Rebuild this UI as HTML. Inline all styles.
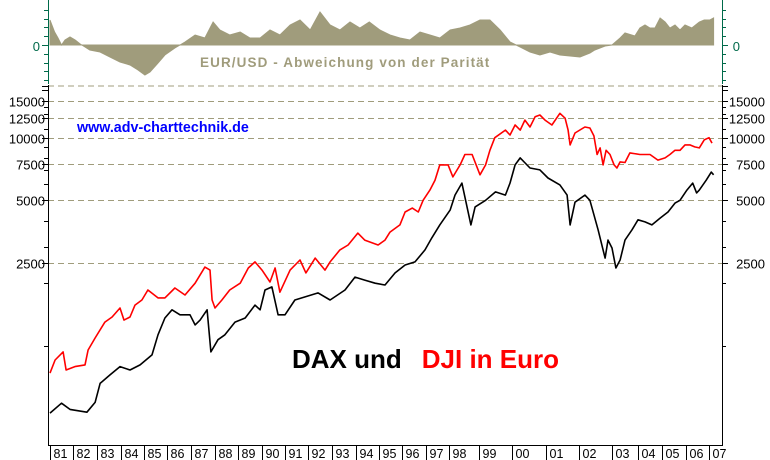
<!DOCTYPE html>
<html><head><meta charset="utf-8">
<style>
html,body{margin:0;padding:0;background:#fff;}
svg{display:block;font-family:"Liberation Sans",Arial,sans-serif;}
</style></head>
<body>
<svg id="chart" width="770" height="460" viewBox="0 0 770 460">
  <g id="grid"></g>
  <g id="dev"></g>
  <g id="axes"></g>
  <g id="series"></g>
  <text x="200" y="67" fill="#a09c7c" font-size="13.5" font-weight="bold" letter-spacing="1.1">EUR/USD - Abweichung von der Parität</text>
  <text x="77" y="132" fill="#0000ff" font-size="14.3" font-weight="bold">www.adv-charttechnik.de</text>
  <text x="292" y="368" font-size="26" font-weight="bold"><tspan fill="#000">DAX und</tspan><tspan fill="#ff0000" dx="20">DJI in Euro</tspan></text>
</svg>
<script>
// ---- data ----
const yearLabels = ["81","82","83","84","85","86","87","88","89","90","91","92","93","94","95","96","97","98","99","00","01","02","03","04","05","06","07"];
const priceTicks = [15000,12500,10000,7500,5000,2500];
const minorTicks = [14000,13000,11000,9000,8000,7000,6000,4000,3000,2000,1000];
const daxDates = [1981.0,1981.5,1981.87,1982.58,1982.92,1983.13,1983.54,1983.96,1984.39,1984.83,1985.35,1985.61,1985.91,1986.21,1986.54,1986.96,1987.17,1987.38,1987.67,1987.83,1988.13,1988.43,1988.87,1989.3,1989.71,1989.92,1990.13,1990.43,1990.7,1991.0,1991.43,1992.42,1992.92,1993.54,1993.96,1994.38,1994.83,1995.26,1995.7,1996.13,1996.54,1996.96,1997.25,1997.6,1998.04,1998.2,1998.43,1998.73,1998.87,1999.2,1999.5,1999.8,1999.94,2000.09,2000.24,2000.53,2000.82,2001.06,2001.42,2001.64,2001.73,2001.88,2002.18,2002.33,2002.58,2002.79,2002.88,2003.0,2003.15,2003.31,2003.5,2003.77,2004.0,2004.29,2004.58,2004.92,2005.25,2005.54,2005.75,2006.04,2006.29,2006.46,2006.58,2006.88,2007.1,2007.2];
const daxValues = [475,530,495,480,535,660,725,795,765,810,905,1130,1360,1490,1410,1410,1260,1330,1490,935,1070,1130,1300,1360,1570,1490,1855,1920,1410,1410,1660,1795,1660,1855,2140,2070,2000,1960,2240,2445,2530,2890,3300,3810,4500,5300,6050,3810,4650,5000,5490,5300,6050,7400,8000,7150,7000,6400,5930,5300,3810,4900,5300,5000,3610,2640,3220,2950,2365,2585,3220,3610,4030,3940,3810,4110,4395,4850,5000,5600,6050,5430,5600,6250,6830,6630];
const djiDates = [1981.0,1981.22,1981.57,1981.7,1982.08,1982.5,1982.63,1982.92,1983.33,1983.63,1983.96,1984.13,1984.39,1984.61,1984.91,1985.17,1985.61,1985.91,1986.33,1986.75,1987.17,1987.58,1987.79,1987.88,1988.0,1988.3,1988.64,1989.09,1989.43,1989.71,1990.0,1990.35,1990.57,1990.78,1991.22,1991.65,1991.91,1992.3,1992.71,1992.92,1993.33,1993.67,1994.08,1994.38,1994.96,1995.26,1995.48,1995.91,1996.13,1996.43,1996.68,1996.88,1997.17,1997.39,1997.6,1997.96,1998.13,1998.37,1998.53,1998.77,1999.03,1999.2,1999.33,1999.48,1999.8,1999.94,2000.09,2000.24,2000.38,2000.53,2000.68,2000.82,2000.97,2001.18,2001.42,2001.58,2001.67,2001.73,2001.88,2002.18,2002.33,2002.45,2002.55,2002.64,2002.73,2002.82,2002.94,2003.08,2003.19,2003.31,2003.5,2003.69,2004.08,2004.5,2004.83,2005.13,2005.33,2005.54,2005.75,2005.96,2006.17,2006.38,2006.58,2006.79,2007.0,2007.13];
const djiValues = [740,855,935,765,795,810,955,1090,1300,1375,1520,1330,1375,1570,1660,1855,1700,1700,1895,1755,2000,2390,2310,1660,1520,1660,1855,2000,2365,2530,2310,2025,2365,1810,2310,2585,2240,2640,2310,2530,2890,3050,3480,3220,3050,3220,3520,3810,4395,4590,4395,5000,5600,6250,7400,7400,6480,7400,8300,8300,6630,7400,8700,10000,10870,10300,11500,10870,12150,11260,12600,12850,12150,11500,13100,12400,10870,9230,10530,11260,11130,10200,8300,8930,7400,8700,8300,7400,7150,7650,7600,8450,8300,8300,7800,8000,8300,8700,8700,9230,9230,9030,8930,9760,10000,9420];
const devDates = [1981.0,1981.2,1981.35,1981.5,1981.65,1981.87,1982.09,1982.3,1982.5,1982.7,1983.13,1983.54,1983.96,1984.39,1984.74,1985.04,1985.26,1985.61,1985.91,1986.33,1986.54,1986.75,1987.17,1987.58,1987.92,1988.21,1988.64,1989.09,1989.5,1989.92,1990.35,1990.78,1991.22,1991.65,1992.09,1992.5,1992.92,1993.33,1993.75,1994.17,1994.58,1995.04,1995.48,1995.91,1996.33,1996.75,1997.17,1997.6,1998.04,1998.37,1998.7,1999.03,1999.33,1999.64,1999.94,2000.24,2000.53,2000.82,2001.12,2001.42,2002.03,2002.33,2002.48,2002.79,2003.0,2003.31,2003.5,2003.88,2004.08,2004.29,2004.5,2004.71,2004.92,2005.13,2005.33,2005.54,2005.75,2005.96,2006.25,2006.58,2006.79,2007.04,2007.2];
const devValues = [20,10.4,5.6,0,4,6.4,4,0.8,-1.6,-4,-5.6,-9.6,-13.6,-16,-20,-24,-21.6,-14.4,-8,-2.4,0,2.4,8,5.6,18.4,12,8,10.4,5.6,5.6,12,8,16,20,12,26.4,16,12,18.4,13.6,18.4,12,8,5.6,4,10.4,8,5.6,12,13.6,16,20,20,12,2.4,-1.6,-5.6,-8,-5.6,-8,-9.6,-6.4,-4,-0.8,0,5.6,9.6,7.2,13.6,16,13.6,13.6,21.6,18.4,13.6,16,12,16,13.6,18.4,20,20,21.6];

// ---- scales (layout) ----
const yearPos = [50,73,97,121,144,167,191,215,238,262,285,308,332,356,379,402,426,449,479,512,546,579,612,638,662,686,709,732];
const X0 = 48, X1 = 722, YB = 445;
function xOf(d){
  let i = Math.floor(d - 1981);
  if (i < 0) i = 0; if (i > yearPos.length - 2) i = yearPos.length - 2;
  const f = d - 1981 - i;
  return yearPos[i] + f * (yearPos[i+1] - yearPos[i]);
}
function yOf(v){ return 263 - 90.4 * Math.log(v / 2500); }
function yDev(v){ return 45 - v / 0.8; }

const NS = "http://www.w3.org/2000/svg";
function mk(tag, attrs, parent){
  const e = document.createElementNS(NS, tag);
  for (const k in attrs) e.setAttribute(k, attrs[k]);
  parent.appendChild(e);
  return e;
}
const grid = document.getElementById('grid');
const axes = document.getElementById('axes');
const dev = document.getElementById('dev');
const series = document.getElementById('series');

const sep = mk('line', {x1:X0, x2:X1, y1:86, y2:86, stroke:'#a09c7c', 'stroke-width':1, 'stroke-dasharray':'6,4'}, grid);


priceTicks.forEach(v => {
  const y = Math.round(yOf(v)) + 0.5;
  const g = mk('line', {x1:X0, x2:X1, y1:y, y2:y, stroke:'#a09c7c', 'stroke-width':1, 'stroke-dasharray':'6,4'}, grid);
  
  
  const tl = mk('text', {x:45, y:y+5, 'text-anchor':'end', 'font-size':13, fill:'#000'}, axes);
  tl.textContent = v;
  
  
  const tr = mk('text', {x:765, y:y+5, 'text-anchor':'end', 'font-size':13, fill:'#000'}, axes);
  tr.textContent = v;
  
  
  mk('line', {x1:X0-6, x2:X0, y1:y, y2:y, stroke:'#000'}, axes);
  mk('line', {x1:X1, x2:X1+6, y1:y, y2:y, stroke:'#000'}, axes);
});
minorTicks.forEach(v => {
  const y = Math.round(yOf(v)) + 0.5;
  mk('line', {x1:X0-4, x2:X0, y1:y, y2:y, stroke:'#000'}, axes);
  mk('line', {x1:X1, x2:X1+4, y1:y, y2:y, stroke:'#000'}, axes);
});
[86.5, 90.5].forEach(y => {
  mk('line', {x1:X0-6, x2:X0, y1:y, y2:y, stroke:'#000'}, axes);
  mk('line', {x1:X1, x2:X1+6, y1:y, y2:y, stroke:'#000'}, axes);
});

const la = mk('line', {x1:X0+0.5, x2:X0+0.5, y1:85, y2:YB+1, stroke:'#000'}, axes);


const ra = mk('line', {x1:X1+0.5, x2:X1+0.5, y1:85, y2:YB+1, stroke:'#000'}, axes);


const xa = mk('line', {x1:X0, x2:X1+1, y1:YB+0.5, y2:YB+0.5, stroke:'#000'}, axes);



const gla = mk('line', {x1:X0+0.5, x2:X0+0.5, y1:0, y2:84, stroke:'#006a4a'}, axes);


const gra = mk('line', {x1:X1+0.5, x2:X1+0.5, y1:0, y2:84, stroke:'#006a4a'}, axes);


for (let i = -4; i <= 4; i++) {
  const y = Math.round(45 + i * 8.8) + 0.5;
  const len = (i === 0) ? 6 : 4;
  mk('line', {x1:X0-len, x2:X0, y1:y, y2:y, stroke:'#006a4a'}, axes);
  mk('line', {x1:X1, x2:X1+len, y1:y, y2:y, stroke:'#006a4a'}, axes);
}
const z1 = mk('text', {x:40, y:51, 'text-anchor':'end', 'font-size':13, fill:'#006a4a'}, axes);
z1.textContent = '0';


const z2 = mk('text', {x:740, y:51, 'text-anchor':'end', 'font-size':13, fill:'#006a4a'}, axes);
z2.textContent = '0';



yearLabels.forEach((lab, i) => {
  const x = Math.round(xOf(1981 + i)) + 0.5;
  mk('line', {x1:x, x2:x, y1:YB, y2:460, stroke:'#000'}, axes);
  const t = mk('text', {x:x+3, y:458, 'font-size':12.5, fill:'#000'}, axes);
  t.textContent = lab;
  
  
});

let dpath = 'M' + xOf(devDates[0]).toFixed(1) + ',45';
devDates.forEach((d, i) => { dpath += ' L' + xOf(d).toFixed(1) + ',' + yDev(devValues[i]).toFixed(1); });
dpath += ' L' + xOf(devDates[devDates.length-1]).toFixed(1) + ',45 Z';
const area = mk('path', {d:dpath, fill:'#a09c7c', stroke:'#a09c7c', 'stroke-width':1}, dev);



function line(dates, vals, color, name){
  const pts = dates.map((d, i) => xOf(d).toFixed(1) + ',' + yOf(vals[i]).toFixed(1)).join(' ');
  const p = mk('polyline', {points:pts, fill:'none', stroke:color, 'stroke-width':1.6, 'stroke-linejoin':'round'}, series);
  
  
}
line(djiDates, djiValues, '#ff0000', 'dji-in-euro-line');
line(daxDates, daxValues, '#000000', 'dax-line');
</script>
</body></html>
